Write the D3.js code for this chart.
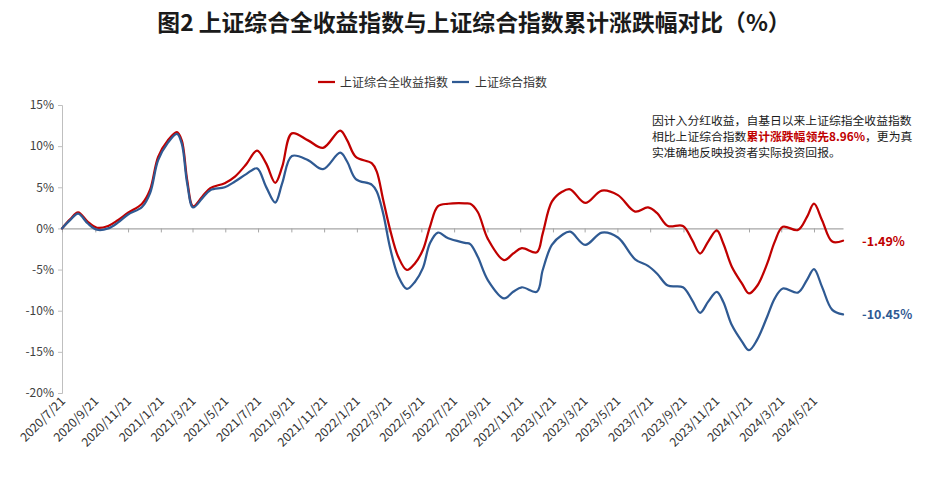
<!DOCTYPE html>
<html>
<head>
<meta charset="utf-8">
<script src="https://cdn.jsdelivr.net/npm/d3@7"></script>
<style>
  html, body { margin: 0; padding: 0; background: #fff; }
  svg { display: block; font-family: "Noto Sans CJK SC", "Microsoft YaHei", sans-serif; }
</style>
</head>
<body>
<svg id="chart" width="930" height="485"></svg>
<script>
// ---------------- DATA ----------------
const title = "图2 上证综合全收益指数与上证综合指数累计涨跌幅对比（%）";
const seriesNames = ["上证综合全收益指数", "上证综合指数"];
const dates = [
  "2020-07-21","2020-08-05","2020-08-20","2020-09-07","2020-09-24","2020-10-15","2020-11-02","2020-11-21",
  "2020-12-17","2021-01-01","2021-01-16","2021-02-03","2021-02-20","2021-03-01","2021-03-11","2021-03-22",
  "2021-04-08","2021-04-23","2021-05-20","2021-06-08","2021-06-29","2021-07-19","2021-08-05","2021-08-22",
  "2021-09-04","2021-09-22","2021-10-22","2021-11-19","2021-12-21","2022-01-03","2022-01-19","2022-02-18",
  "2022-02-27","2022-03-11","2022-03-24","2022-04-08","2022-04-24","2022-05-09","2022-05-24","2022-06-06",
  "2022-06-21","2022-07-10","2022-08-10","2022-08-20","2022-09-03","2022-09-22","2022-10-22","2022-11-08",
  "2022-11-24","2022-12-22","2023-01-02","2023-01-19","2023-02-07","2023-02-22","2023-03-22","2023-04-22",
  "2023-05-22","2023-06-23","2023-07-17","2023-08-03","2023-08-23","2023-09-20","2023-10-07","2023-10-22",
  "2023-11-06","2023-11-22","2023-12-04","2023-12-20","2024-01-08","2024-01-21","2024-02-05","2024-02-24",
  "2024-03-09","2024-03-24","2024-04-21","2024-05-08","2024-05-21","2024-06-05","2024-06-24","2024-07-14"
];
const totalReturn = [
  0, 1.1, 1.95, 0.8, 0.08, 0.3, 1.0, 1.9,
  3.0, 4.7, 8.7, 10.7, 11.7, 10.7, 5.9, 2.7,
  3.85, 4.9, 5.5, 6.3, 7.8, 9.45, 7.9, 5.55,
  7.5, 11.55, 10.7, 9.8, 11.9, 10.7, 8.7, 7.9,
  6.9, 3.45, -0.2, -3.45, -5.05, -4.25, -2.6, 0.2,
  2.7, 3.0, 3.05, 3.0, 2.0, -1.3, -3.85, -3.05,
  -2.4, -2.9, -0.6, 3.25, 4.45, 4.75, 3.1, 4.6,
  4.05, 2.05, 2.55, 1.85, 0.3, 0.3, -1.4, -3.05,
  -1.6, -0.25, -1.8, -4.65, -6.7, -7.9, -7.0, -4.25,
  -1.6, 0.2, -0.2, 1.4, 3.0, 1.0, -1.6, -1.49
];
const composite = [
  0, 1.0, 1.8, 0.6, -0.15, 0.0, 0.7, 1.7,
  2.6, 4.3, 8.3, 10.4, 11.5, 10.3, 5.5, 2.55,
  3.65, 4.65, 5.0, 5.7, 6.6, 7.3, 5.05, 3.15,
  5.5, 8.8, 8.3, 7.2, 9.2, 8.1, 6.0, 5.3,
  4.5, 1.8, -2.4, -5.8, -7.35, -6.5, -4.8, -1.8,
  -0.5, -1.2, -1.75, -1.9, -3.45, -6.3, -8.5, -7.7,
  -7.15, -7.7, -5.05, -2.0, -0.8, -0.4, -2.0, -0.5,
  -1.1, -3.75, -4.55, -5.5, -6.95, -7.15, -8.7, -10.25,
  -8.9, -7.7, -8.9, -11.75, -13.75, -14.8, -13.55, -10.7,
  -8.5, -7.3, -7.8, -6.25, -4.95, -7.1, -9.9, -10.45
];
const yTicks = [15, 10, 5, 0, -5, -10, -15, -20];
const xTickLabels = [
  "2020/7/21","2020/9/21","2020/11/21","2021/1/21","2021/3/21","2021/5/21","2021/7/21","2021/9/21",
  "2021/11/21","2022/1/21","2022/3/21","2022/5/21","2022/7/21","2022/9/21","2022/11/21","2023/1/21",
  "2023/3/21","2023/5/21","2023/7/21","2023/9/21","2023/11/21","2024/1/21","2024/3/21","2024/5/21"
];
const endLabels = ["-1.49%", "-10.45%"];
const noteLines = [
  [{t: "因计入分红收益，自基日以来上证综指全收益指数", hl: false}],
  [{t: "相比上证综合指数", hl: false}, {t: "累计涨跌幅领先8.96%", hl: true}, {t: "，更为真", hl: false}],
  [{t: "实准确地反映投资者实际投资回报。", hl: false}]
];

// ---------------- CHART ----------------
const colors = ["#C00000", "#2F5A93"];
const svg = d3.select("#chart");
const parse = d3.timeParse("%Y-%m-%d");
const parseTick = d3.timeParse("%Y/%m/%d");
const dts = dates.map(parse);
const tickDates = xTickLabels.map(parseTick);

const x = d3.scaleTime()
  .domain([parse("2020-07-21"), parse("2024-07-14")])
  .range([62, 843]);
const y = d3.scaleLinear().domain([-20, 15]).range([393, 105]);

// title
svg.append("text")
  .attr("x", 474).attr("y", 31)
  .attr("text-anchor", "middle")
  .attr("font-size", 22.8).attr("font-weight", "bold").attr("fill", "#1a1a1a")
  .text(title);

// legend
const leg = svg.append("g");
const legItems = [{x: 318, w: 17, tx: 340}, {x: 452, w: 17, tx: 475}];
legItems.forEach((d, i) => {
  leg.append("line").attr("x1", d.x).attr("x2", d.x + d.w).attr("y1", 82).attr("y2", 82)
    .attr("stroke", colors[i]).attr("stroke-width", 2.25);
  leg.append("text").attr("x", d.tx).attr("y", 86.5).attr("font-size", 12).attr("fill", "#333")
    .text(seriesNames[i]);
});

// y axis
const yAxis = svg.append("g").attr("transform", "translate(62,0)")
  .call(d3.axisLeft(y).tickValues(yTicks).tickFormat(d => d + "%").tickSize(4).tickPadding(4));
yAxis.select(".domain").attr("stroke", "#BFBFBF");
yAxis.selectAll(".tick line").attr("stroke", "#BFBFBF");
yAxis.selectAll(".tick text").attr("font-size", 12).attr("fill", "#404040")
  .attr("font-family", "'Noto Sans CJK SC', sans-serif");

// x axis at zero line
const xAxis = svg.append("g").attr("transform", `translate(0,${y(0)})`)
  .call(d3.axisBottom(x).tickValues(tickDates).tickFormat("").tickSize(4).tickSizeOuter(0));
xAxis.select(".domain").attr("stroke", "#A6A6A6").attr("stroke-width", 1.2);
xAxis.selectAll(".tick line").attr("stroke", "#A6A6A6");

// x labels at bottom
svg.append("g").selectAll("text").data(tickDates).join("text")
  .attr("transform", (d) => `translate(${x(d) + 4},${402}) rotate(-45)`)
  .attr("text-anchor", "end")
  .attr("font-size", 12.3).attr("fill", "#333")
  .text((d, i) => xTickLabels[i]);

// lines
const line = d3.line().x((d) => x(d[0])).y((d) => y(d[1])).curve(d3.curveCatmullRom.alpha(0.5));
[totalReturn, composite].forEach((vals, i) => {
  svg.append("path")
    .datum(dts.map((d, j) => [d, vals[j]]))
    .attr("fill", "none").attr("stroke", colors[i]).attr("stroke-width", 2.25)
    .attr("stroke-linejoin", "round").attr("stroke-linecap", "round")
    .attr("d", line);
});

// end labels
[totalReturn, composite].forEach((vals, i) => {
  svg.append("text")
    .attr("x", 862).attr("y", y(vals[vals.length - 1]) + 5)
    .attr("font-size", 12.5).attr("font-weight", "bold").attr("fill", colors[i])
    .text(endLabels[i]);
});

// note
const note = svg.append("text").attr("font-size", 11.8).attr("fill", "#1a1a1a");
noteLines.forEach((parts, li) => {
  const t = note.append("tspan").attr("x", 652).attr("y", 125 + li * 16);
  parts.forEach((p, pi) => {
    const s = pi === 0 ? t : note.append("tspan");
    s.text(p.t);
    if (p.hl) s.attr("fill", "#C00000").attr("font-weight", "bold");
  });
});
</script>
</body>
</html>
